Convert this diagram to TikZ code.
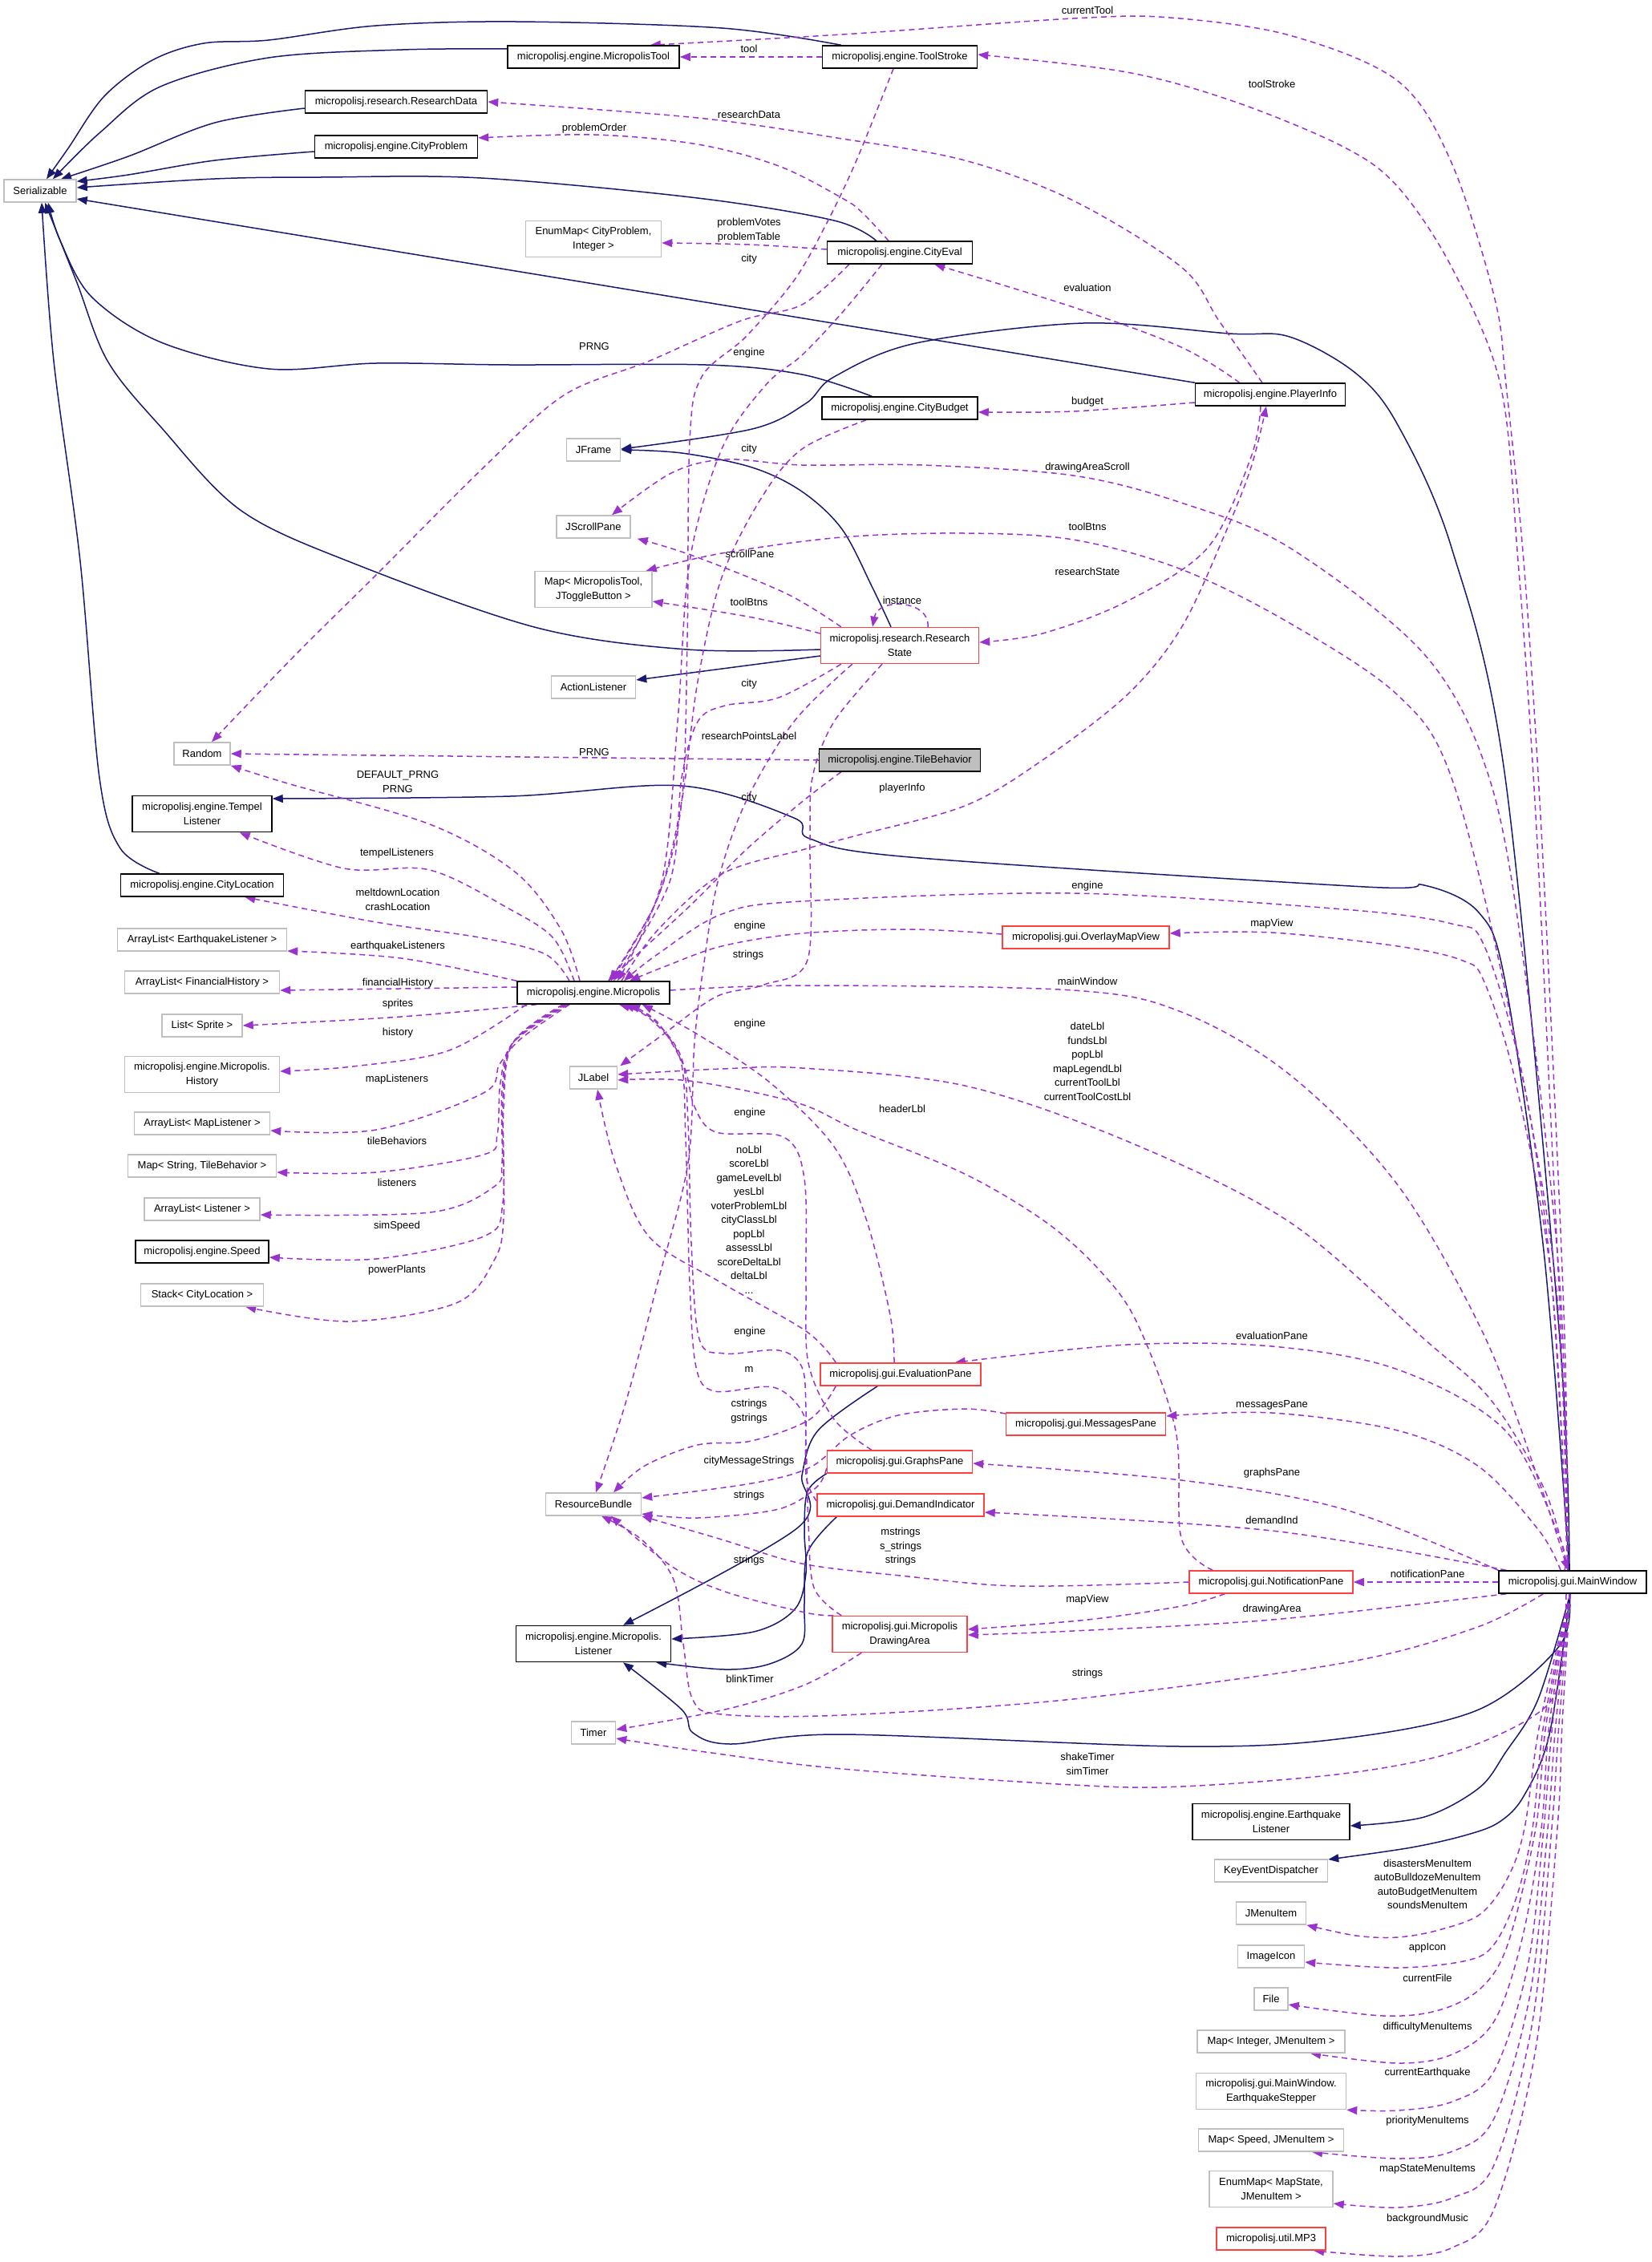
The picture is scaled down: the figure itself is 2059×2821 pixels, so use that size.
\documentclass[tikz,border=0pt]{standalone}
\usepackage{fontspec}
\setmainfont{Liberation Sans}
\usetikzlibrary{arrows.meta,calc}
\definecolor{inhc}{RGB}{25,25,112}
\definecolor{depc}{RGB}{154,50,205}
\definecolor{extc}{RGB}{191,191,191}
\definecolor{redc}{RGB}{255,64,64}
\pgfdeclarelayer{bg}
\pgfsetlayers{bg,main}
\begin{document}
\begin{tikzpicture}[x=1pt,y=-1pt,
  every node/.style={font=\fontsize{13pt}{17.5pt}\selectfont, inner sep=0pt, align=center},
  box/.style={draw, line width=1.5pt, fill=white, minimum height=28pt},
  docb/.style={box, draw=black},
  extb/.style={box, draw=extc},
  redb/.style={box, draw=redc},
  tall/.style={minimum height=45pt},
  inh/.style={draw=inhc, line width=1.5pt, -{Triangle[length=13pt,width=10pt]}},
  dep/.style={draw=depc, line width=1.5pt, dash pattern=on 7pt off 5pt, -{Triangle[length=13pt,width=10pt]}},
  sm/.style={smooth, tension=0.55},
]
\useasboundingbox (0,0) rectangle (2059,2821);

% ---------------- nodes ----------------
\node[extb, minimum width=90pt] (ser) at (50,238) {Serializable};
\node[docb, minimum width=214pt] (mtool) at (740,71) {micropolisj.engine.MicropolisTool};
\node[docb, minimum width=193pt] (tstroke) at (1122,71) {micropolisj.engine.ToolStroke};
\node[docb, minimum width=227pt] (rdata) at (494,127) {micropolisj.research.ResearchData};
\node[docb, minimum width=203pt] (cprob) at (494,183) {micropolisj.engine.CityProblem};
\node[extb, tall, minimum width=169pt] (emcp) at (740,298) {EnumMap< CityProblem,\\Integer >};
\node[docb, minimum width=181pt] (ceval) at (1122,315) {micropolisj.engine.CityEval};
\node[docb, minimum width=187pt] (pinfo) at (1584,492) {micropolisj.engine.PlayerInfo};
\node[docb, minimum width=194pt] (cbudget) at (1122,509) {micropolisj.engine.CityBudget};
\node[extb, minimum width=67pt] (jframe) at (740,561) {JFrame};
\node[extb, minimum width=92pt] (jscroll) at (740,657) {JScrollPane};
\node[extb, tall, minimum width=146pt] (maptool) at (740,735) {Map< MicropolisTool,\\JToggleButton >};
\node[redb, tall, minimum width=197pt] (rstate) at (1122,805) {micropolisj.research.Research\\State};
\node[extb, minimum width=105pt] (alist) at (740,857) {ActionListener};
\node[extb, minimum width=70pt] (random) at (252,940) {Random};
\node[docb, fill=extc, minimum width=201pt] (tbeh) at (1122,948) {micropolisj.engine.TileBehavior};
\node[docb, tall, minimum width=174pt] (tempel) at (252,1015) {micropolisj.engine.Tempel\\Listener};
\node[docb, minimum width=203pt] (cloc) at (252,1104) {micropolisj.engine.CityLocation};
\node[extb, minimum width=211pt] (aleq) at (252,1172) {ArrayList< EarthquakeListener >};
\node[extb, minimum width=193pt] (alfin) at (252,1225) {ArrayList< FinancialHistory >};
\node[docb, minimum width=190pt] (micro) at (740,1238) {micropolisj.engine.Micropolis};
\node[extb, minimum width=100pt] (lsprite) at (252,1279) {List< Sprite >};
\node[extb, tall, minimum width=193pt] (hist) at (252,1340) {micropolisj.engine.Micropolis.\\History};
\node[extb, minimum width=59pt] (jlabel) at (740,1344) {JLabel};
\node[extb, minimum width=169pt] (almap) at (252,1401) {ArrayList< MapListener >};
\node[extb, minimum width=185pt] (mstb) at (252,1454) {Map< String, TileBehavior >};
\node[extb, minimum width=144pt] (allis) at (252,1508) {ArrayList< Listener >};
\node[docb, minimum width=166pt] (speed) at (252,1561) {micropolisj.engine.Speed};
\node[extb, minimum width=153pt] (stack) at (252,1615) {Stack< CityLocation >};
\node[redb, minimum width=208pt] (omv) at (1354,1169) {micropolisj.gui.OverlayMapView};
\node[redb, minimum width=200pt] (evalp) at (1123,1714) {micropolisj.gui.EvaluationPane};
\node[redb, minimum width=199pt] (msgp) at (1354,1776) {micropolisj.gui.MessagesPane};
\node[redb, minimum width=181pt] (graphp) at (1122,1823) {micropolisj.gui.GraphsPane};
\node[extb, minimum width=119pt] (rbundle) at (740,1876) {ResourceBundle};
\node[redb, minimum width=208pt] (demand) at (1123,1877) {micropolisj.gui.DemandIndicator};
\node[redb, minimum width=204pt] (notif) at (1585,1973) {micropolisj.gui.NotificationPane};
\node[docb, minimum width=184pt] (mw) at (1961,1973) {micropolisj.gui.MainWindow};
\node[redb, tall, minimum width=168pt] (darea) at (1122,2038) {micropolisj.gui.Micropolis\\DrawingArea};
\node[docb, tall, minimum width=193pt] (mlist) at (740,2050) {micropolisj.engine.Micropolis.\\Listener};
\node[extb, minimum width=55pt] (timer) at (740,2161) {Timer};
\node[docb, tall, minimum width=196pt] (eqlist) at (1585,2272) {micropolisj.engine.Earthquake\\Listener};
\node[extb, minimum width=141pt] (ked) at (1585,2333) {KeyEventDispatcher};
\node[extb, minimum width=87pt] (jmi) at (1585,2386) {JMenuItem};
\node[extb, minimum width=83pt] (icon) at (1585,2440) {ImageIcon};
\node[extb, minimum width=42pt] (file) at (1585,2493) {File};
\node[extb, minimum width=184pt] (mapint) at (1585,2546) {Map< Integer, JMenuItem >};
\node[extb, tall, minimum width=187pt] (eqstep) at (1585,2608) {micropolisj.gui.MainWindow.\\EarthquakeStepper};
\node[extb, minimum width=181pt] (mapspeed) at (1585,2669) {Map< Speed, JMenuItem >};
\node[extb, tall, minimum width=154pt] (emms) at (1585,2730) {EnumMap< MapState,\\JMenuItem >};
\node[redb, minimum width=136pt] (mp3) at (1585,2792) {micropolisj.util.MP3};

% ---------------- labels ----------------
\node (t01) at (1356,13) {currentTool};
\node (t02) at (934,61) {tool};
\node (t03) at (1586,105) {toolStroke};
\node (t04) at (934,143) {researchData};
\node (t05) at (741,160) {problemOrder};
\node (t06) at (934,287) {problemVotes\\problemTable};
\node (t07) at (934,323) {city};
\node (t08) at (1356,359) {evaluation};
\node (t09) at (741,432) {PRNG};
\node (t10) at (934,440) {engine};
\node (t11) at (1356,501) {budget};
\node (t12) at (934,560) {city};
\node (t13) at (1356,583) {drawingAreaScroll};
\node (t14) at (1356,657) {toolBtns};
\node (t15) at (935,691) {scrollPane};
\node (t16) at (1356,713) {researchState};
\node (t17) at (1125,749) {instance};
\node (t18) at (934,751) {toolBtns};
\node (t19) at (934,853) {city};
\node (t20) at (934,918) {researchPointsLabel};
\node (t21) at (741,938) {PRNG};
\node (t22) at (496,975) {DEFAULT\_PRNG\\PRNG};
\node (t23) at (1125,983) {playerInfo};
\node (t24) at (934,995) {city};
\node (t25) at (495,1064) {tempelListeners};
\node (t26) at (1356,1105) {engine};
\node (t27) at (496,1122) {meltdownLocation\\crashLocation};
\node (t28) at (1586,1152) {mapView};
\node (t29) at (935,1155) {engine};
\node (t30) at (496,1180) {earthquakeListeners};
\node (t31) at (933,1191) {strings};
\node (t32) at (1356,1224) {mainWindow};
\node (t33) at (496,1226) {financialHistory};
\node (t34) at (496,1252) {sprites};
\node (t35) at (935,1277) {engine};
\node (t36) at (496,1288) {history};
\node (t37) at (1356,1324) {dateLbl\\fundsLbl\\popLbl\\mapLegendLbl\\currentToolLbl\\currentToolCostLbl};
\node (t38) at (495,1346) {mapListeners};
\node (t39) at (1125,1383) {headerLbl};
\node (t40) at (935,1388) {engine};
\node (t41) at (495,1423) {tileBehaviors};
\node (t42) at (495,1475) {listeners};
\node (t43) at (934,1521) {noLbl\\scoreLbl\\gameLevelLbl\\yesLbl\\voterProblemLbl\\cityClassLbl\\popLbl\\assessLbl\\scoreDeltaLbl\\deltaLbl\\...};
\node (t44) at (495,1529) {simSpeed};
\node (t45) at (495,1584) {powerPlants};
\node (t46) at (935,1661) {engine};
\node (t47) at (1586,1666) {evaluationPane};
\node (t48) at (934,1708) {m};
\node (t49) at (1586,1752) {messagesPane};
\node (t50) at (934,1760) {cstrings\\gstrings};
\node (t51) at (934,1822) {cityMessageStrings};
\node (t52) at (1586,1837) {graphsPane};
\node (t53) at (934,1865) {strings};
\node (t54) at (1586,1896) {demandInd};
\node (t55) at (1123,1929) {mstrings\\s\_strings\\strings};
\node (t56) at (934,1946) {strings};
\node (t57) at (1780,1963) {notificationPane};
\node (t58) at (1356,1995) {mapView};
\node (t59) at (1586,2007) {drawingArea};
\node (t60) at (1356,2087) {strings};
\node (t61) at (935,2094) {blinkTimer};
\node (t62) at (1356,2200) {shakeTimer\\simTimer};
\node (t63) at (1780,2350) {disastersMenuItem\\autoBulldozeMenuItem\\autoBudgetMenuItem\\soundsMenuItem};
\node (t64) at (1780,2429) {appIcon};
\node (t65) at (1780,2467) {currentFile};
\node (t66) at (1780,2528) {difficultyMenuItems};
\node (t67) at (1780,2585) {currentEarthquake};
\node (t68) at (1780,2645) {priorityMenuItems};
\node (t69) at (1780,2705) {mapStateMenuItems};
\node (t70) at (1780,2767) {backgroundMusic};

\begin{pgfonlayer}{bg}
% ---------------- inheritance ----------------
\draw[inh] plot[sm] coordinates {($(mtool.west)+(0,-10)$) (502,62) (335,72) (200,108) (125,165) ($(ser.north)+(16,0)$)};
\draw[inh] plot[sm] coordinates {($(tstroke.north west)+(24,0)$) (900,35) (643,27) (469,32) (335,50) (254,54) (190,75) (130,120) (85,185) ($(ser.north)+(8,0)$)};
\draw[inh] plot[sm] coordinates {($(rdata.west)+(0,8)$) (268,153) (160,195) ($(ser.north)+(26,0)$)};
\draw[inh] plot[sm] coordinates {($(cprob.west)+(0,6)$) (268,200) (160,218) ($(ser.north east)+(0,3)$)};
\draw[inh] plot[sm] coordinates {($(ceval.north west)+(62,0)$) (1040,275) (870,247) (600,222) (400,221) (268,223) ($(ser.east)+(0,-4)$)};
\draw[inh] (pinfo.north west) -- ($(ser.east)+(0,10)$);
\draw[inh] plot[sm] coordinates {($(cbudget.north west)+(63,0)$) (1000,467) (880,455) (636,455) (469,453) (335,460) (201,427) (114,370) (75,300) ($(ser.south)+(10,0)$)};
\draw[inh] plot[sm] coordinates {($(cloc.north west)+(49,0)$) (150,1058) (124,970) (100,700) (67,450) ($(ser.south)+(2,0)$)};
\draw[inh] plot[sm] coordinates {($(rstate.west)+(0,5)$) (857,810) (670,783) (442,703) (301,637) (201,533) (134,450) (95,350) ($(ser.south)+(6,0)$)};
\draw[inh] plot[sm] coordinates {($(rstate.north)+(-11,0)$) (1088,733) (1050,660) (1000,613) (938,583) (850,565) (jframe.east)};
\draw[inh] ($(rstate.west)+(0,13)$) -- ($(alist.east)+(0,-9)$);
\draw[inh] plot[sm] coordinates {($(mw.north)+(-4,0)$) (1945,1670) (1877,970) (1810,683) (1743,530) (1690,465) (1608,420) (1533,416) (1351,403) (1142,428) (1040,470) (1005,503) (938,535) ($(jframe.east)+(0,-1)$)};
\draw[inh] plot[sm] coordinates {($(mw.north)+(-4,0)$) (1925,1560) (1877,1225) (1844,1138) (1776,1104) (1702,1106) (1135,1069) (1010,1046) (990,1020) (850,980) (636,993) ($(tempel.east)+(0,-19)$)};
\draw[inh] plot[sm] coordinates {($(mw.south)+(-4,0)$) (1945,2052) (1844,2132) (1675,2168) (1473,2178) (1050,2163) (911,2175) (864,2161) (850,2132) ($(mlist.south)+(37,0)$)};
\draw[inh] plot[sm] coordinates {($(evalp.south west)+(72,0)$) (1020,1784) (1000,1840) (995,1905) ($(mlist.north)+(37,0)$)};
\draw[inh] plot[sm] coordinates {(graphp.south west) (1007,1860) (1003,1910) (1005,1962) (991,2007) (940,2035) ($(mlist.east)+(0,-6)$)};
\draw[inh] plot[sm] coordinates {($(demand.south west)+(25,0)$) (1007,1936) (1003,2000) (1000,2050) (960,2075) (904,2082) ($(mlist.south east)+(-19,0)$)};
\draw[inh] plot[sm] coordinates {($(mw.south)+(-3,0)$) (1918,2119) (1877,2186) (1844,2230) (1776,2266) ($(eqlist.east)+(0,5)$)};
\draw[inh] plot[sm] coordinates {($(mw.south)+(-3,0)$) (1932,2163) (1900,2240) (1870,2272) (1830,2288) (1760,2304) ($(ked.east)+(0,-14)$)};

% ---------------- usage ----------------
\draw[dep] (tstroke.west) -- (mtool.east);
\draw[dep] plot[sm] coordinates {($(mw.north)+(-6,0)$) (1952,1700) (1940,1400) (1920,1000) (1900,700) (1878,480) (1864,373) (1810,203) (1743,101) (1608,44) (1459,22) (1338,23) (1050,43) ($(mtool.north east)+(-37,0)$)};
\draw[dep] plot[sm] coordinates {($(mw.north)+(-6,0)$) (1948,1700) (1934,1400) (1914,1000) (1893,700) (1871,480) (1810,333) (1743,233) (1675,183) (1540,127) (1405,90) ($(tstroke.east)+(0,-3)$)};
\draw[dep] plot[sm] coordinates {($(pinfo.north)+(-10,0)$) (1520,400) (1473,333) (1338,250) (1203,200) (1050,173) (870,147) (rdata.east)};
\draw[dep] plot[sm] coordinates {($(ceval.north)+(-14,0)$) (1075,265) (1050,247) (971,207) (870,180) (741,168) ($(cprob.east)+(0,-11)$)};
\draw[dep] plot[sm] coordinates {($(ceval.west)+(0,-4)$) (934,305) ($(emcp.east)+(0,5)$)};
\draw[dep] plot[sm] coordinates {($(ceval.south west)+(69,0)$) (1050,390) (1000,443) (955,480) (900,560) (860,700) (845,900) (825,1100) ($(micro.north)+(30,0)$)};
\draw[dep] plot[sm] coordinates {($(ceval.south west)+(28,0)$) (1000,380) (924,400) (810,450) (703,493) (603,583) (469,717) (368,817) ($(random.north)+(12,0)$)};
\draw[dep] plot[sm] coordinates {($(pinfo.north west)+(56,0)$) (1473,433) (1338,383) ($(ceval.south east)+(-48,0)$)};
\draw[dep] plot[sm] coordinates {($(pinfo.west)+(0,10)$) (1338,513) ($(cbudget.east)+(0,5)$)};
\draw[dep] plot[sm] coordinates {($(pinfo.south)+(-12,0)$) (1560,570) (1506,683) (1405,750) (1300,790) ($(rstate.east)+(0,-4)$)};
\draw[dep] plot[sm] coordinates {($(micro.north)+(35,0)$) (820,1160) (900,1090) (1000,1060) (1068,1042) (1203,1005) (1297,950) (1405,867) (1473,783) (1527,667) (1560,583) ($(pinfo.south)+(-5,0)$)};
\draw[dep] plot[sm] coordinates {($(mw.north)+(-6,0)$) (1945,1600) (1900,1200) (1857,970) (1777,817) (1608,683) (1473,627) (1338,593) (1150,580) (1000,580) (904,573) (837,590) ($(jscroll.north)+(23,0)$)};
\draw[dep] plot[sm] coordinates {($(mw.north)+(-6,0)$) (1940,1600) (1880,1250) (1810,970) (1743,867) (1608,777) (1473,710) (1338,673) (1203,665) (1050,670) (900,690) ($(maptool.north east)+(-8,0)$)};
\draw[dep] plot[sm] coordinates {($(rstate.north west)+(26,0)$) (980,740) (864,693) ($(jscroll.south east)+(8,0)$)};
\draw[dep] plot[sm] coordinates {($(rstate.west)+(0,-15)$) (938,770) ($(maptool.east)+(0,15)$)};
\draw[dep] ($(rstate.north)+(35,0)$) .. controls (1160,748) and (1095,745) .. ($(rstate.north)+(-34,0)$);
\draw[dep] plot[sm] coordinates {($(rstate.south west)+(26,0)$) (971,870) (904,880) (870,900) (850,970) (835,1100) ($(micro.north)+(25,0)$)};
\draw[dep] plot[sm] coordinates {($(rstate.south)+(-22,0)$) (1040,900) (1013,970) (1010,1050) (1007,1197) (953,1228) (893,1243) (827,1290) ($(jlabel.north east)+(3,0)$)};
\draw[dep] plot[sm] coordinates {($(rstate.south west)+(40,0)$) (990,900) (930,1000) (895,1100) (878,1200) (866,1300) (858,1450) (820,1600) (780,1750) ($(rbundle.north)+(3,0)$)};
\draw[dep] (tbeh.west) -- (random.east);
\draw[dep] plot[sm] coordinates {($(tbeh.south west)+(28,0)$) (1000,1000) (930,1060) (860,1130) ($(micro.north)+(18,0)$)};
\draw[dep] plot[sm] coordinates {($(tstroke.south)+(-8,0)$) (1068,200) (1030,280) (990,350) (930,420) (875,470) (860,550) (857,800) (850,1000) (820,1120) ($(micro.north)+(20,0)$)};
\draw[dep] plot[sm] coordinates {($(cbudget.south west)+(56,0)$) (1000,560) (950,620) (900,720) (870,850) (850,1000) (820,1120) ($(micro.north)+(22,0)$)};
\draw[dep] plot[sm] coordinates {($(mw.north)+(-6,0)$) (1935,1600) (1900,1350) (1851,1180) (1810,1152) (1675,1134) (1338,1114) (1000,1124) (900,1140) (820,1190) ($(micro.north)+(38,0)$)};
\draw[dep] plot[sm] coordinates {($(mw.north)+(-6,0)$) (1935,1600) (1890,1350) (1851,1225) (1824,1198) (1743,1180) (1586,1163) ($(omv.east)+(0,-5)$)};
\draw[dep] plot[sm] coordinates {($(omv.west)+(0,-4)$) (1135,1159) (1000,1164) (900,1180) (830,1205) ($(micro.north)+(45,0)$)};
\draw[dep] plot[sm] coordinates {($(micro.east)+(0,-3)$) (1000,1229) (1338,1235) (1473,1262) (1608,1340) (1743,1478) (1851,1666) (1920,1850) ($(mw.north)+(-6,0)$)};
\draw[dep] plot[sm] coordinates {($(mw.north)+(-6,0)$) (1927,1860) (1860,1747) (1776,1670) (1608,1524) (1405,1423) (1203,1354) (1000,1332) (900,1333) ($(jlabel.east)+(0,-4)$)};
\draw[dep] plot[sm] coordinates {($(notif.north west)+(30,0)$) (1473,1918) (1466,1784) (1418,1650) (1371,1584) (1304,1524) (1203,1464) (1068,1409) (993,1375) (860,1348) ($(jlabel.east)+(0,3)$)};
\draw[dep] plot[sm] coordinates {($(evalp.north west)+(20,0)$) (1005,1660) (900,1600) (810,1543) (767,1450) ($(jlabel.south)+(5,0)$)};
\draw[dep] plot[sm] coordinates {($(evalp.north)+(-8,0)$) (1110,1640) (1080,1520) (1040,1430) (960,1350) (870,1290) ($(micro.south east)+(-35,0)$)};
\draw[dep] plot[sm] coordinates {($(graphp.north west)+(56,0)$) (1040,1770) (1008,1700) (1005,1600) (1003,1470) (977,1418) (893,1412) (866,1380) (853,1330) (820,1275) ($(micro.south)+(45,0)$)};
\draw[dep] plot[sm] coordinates {($(demand.west)+(0,-5)$) (1005,1840) (1005,1760) (1000,1705) (971,1684) (904,1688) (872,1670) (862,1550) (858,1400) (850,1320) (815,1272) ($(micro.south)+(38,0)$)};
\draw[dep] plot[sm] coordinates {($(darea.north west)+(12,0)$) (1015,1980) (1008,1900) (1005,1800) (1000,1760) (964,1730) (891,1735) (868,1705) (860,1600) (855,1420) (848,1320) (810,1270) ($(micro.south)+(32,0)$)};
\draw[dep] plot[sm] coordinates {($(evalp.south west)+(20,0)$) (1010,1770) (937,1797) (870,1802) (804,1828) ($(rbundle.north)+(25,0)$)};
\draw[dep] plot[sm] coordinates {($(msgp.west)+(0,-13)$) (1203,1757) (1120,1765) (1060,1790) (1010,1830) (937,1850) ($(rbundle.east)+(0,-8)$)};
\draw[dep] plot[sm] coordinates {($(graphp.west)+(0,8)$) (1018,1855) (971,1882) (870,1893) ($(rbundle.east)+(0,12)$)};
\draw[dep] plot[sm] coordinates {($(darea.north west)+(2,0)$) (1004,2011) (904,1985) (837,1953) ($(rbundle.south)+(22,0)$)};
\draw[dep] plot[sm] coordinates {(notif.west) (1270,1978) (1123,1965) (1000,1950) (900,1920) (rbundle.south east)};
\draw[dep] plot[sm] coordinates {($(notif.south west)+(45,0)$) (1473,2003) (1356,2020) ($(darea.east)+(0,-6)$)};
\draw[dep] plot[sm] coordinates {($(mw.south west)+(10,0)$) (1586,2020) (1338,2034) ($(darea.east)+(0,1)$)};
\draw[dep] (mw.west) -- (notif.east);
\draw[dep] plot[sm] coordinates {($(mw.north west)+(10,0)$) (1586,1909) ($(demand.east)+(0,9)$)};
\draw[dep] plot[sm] coordinates {(mw.north west) (1675,1882) (1473,1846) ($(graphp.east)+(0,2)$)};
\draw[dep] plot[sm] coordinates {($(mw.north)+(-15,0)$) (1920,1910) (1844,1829) (1743,1784) (1586,1762) ($(msgp.east)+(0,-10)$)};
\draw[dep] plot[sm] coordinates {($(mw.north)+(-10,0)$) (1945,1918) (1877,1784) (1743,1708) (1586,1679) (1405,1677) ($(evalp.north east)+(-33,0)$)};
\draw[dep] plot[sm] coordinates {($(mw.south west)+(56,0)$) (1840,2030) (1675,2074) (1338,2119) (1050,2139) (900,2138) (864,2120) (852,2050) (840,1970) (800,1920) ($(rbundle.south)+(10,0)$)};
\draw[dep] plot[sm] coordinates {($(mw.south)+(-8,0)$) (1945,2096) (1911,2141) (1810,2186) (1675,2212) (1473,2228) (1338,2226) (1050,2206) (880,2185) ($(timer.east)+(0,7)$)};
\draw[dep] plot[sm] coordinates {($(darea.south west)+(37,0)$) (1004,2101) (904,2132) ($(timer.east)+(0,-4)$)};
% fan below MainWindow
\draw[dep] plot[sm] coordinates {($(mw.south)+(-3,0)$) (1920,2150) (1901,2280) (1880,2342) (1846,2387) (1794,2407) (1743,2416) (1691,2414) (jmi.south east)};
\draw[dep] plot[sm] coordinates {($(mw.south)+(-3,0)$) (1925,2150) (1911,2280) (1891,2366) (1863,2425) (1829,2445) (1743,2454) ($(icon.east)+(0,7)$)};
\draw[dep] plot[sm] coordinates {($(mw.south)+(-3,0)$) (1928,2150) (1915,2280) (1880,2425) (1846,2480) (1794,2507) (1725,2514) ($(file.east)+(0,7)$)};
\draw[dep] plot[sm] coordinates {($(mw.south)+(-3,0)$) (1932,2150) (1922,2280) (1898,2418) (1863,2521) (1811,2562) (1743,2573) ($(mapint.south)+(49,0)$)};
\draw[dep] plot[sm] coordinates {($(mw.south)+(-3,0)$) (1936,2150) (1925,2280) (1905,2452) (1863,2583) (1811,2621) (1743,2632) (eqstep.south east)};
\draw[dep] plot[sm] coordinates {($(mw.south)+(-3,0)$) (1940,2150) (1930,2280) (1908,2487) (1863,2642) (1811,2683) (1743,2692) ($(mapspeed.south)+(51,0)$)};
\draw[dep] plot[sm] coordinates {($(mw.south)+(-3,0)$) (1944,2150) (1935,2280) (1911,2521) (1863,2700) (1811,2741) (1743,2753) ($(emms.east)+(0,18)$)};
\draw[dep] plot[sm] coordinates {($(mw.south)+(-3,0)$) (1948,2150) (1942,2280) (1915,2555) (1863,2755) (1811,2803) (1743,2814) ($(mp3.south)+(53,0)$)};
% Micropolis fields, left column
\draw[dep] plot[sm] coordinates {($(micro.north)+(-17,0)$) (700,1160) (643,1088) (536,1028) (362,978) (random.south east)};
\draw[dep] plot[sm] coordinates {($(micro.north)+(-24,0)$) (690,1170) (636,1134) (536,1085) (429,1083) ($(tempel.south east)+(-41,0)$)};
\draw[dep] plot[sm] coordinates {($(micro.north)+(-30,0)$) (680,1190) (603,1170) (469,1150) ($(cloc.south east)+(-49,0)$)};
\draw[dep] plot[sm] coordinates {(micro.north west) (500,1195) ($(aleq.east)+(0,14)$)};
\draw[dep] ($(micro.west)+(0,-7)$) -- ($(alfin.east)+(0,10)$);
\draw[dep] plot[sm] coordinates {($(micro.south west)+(25,0)$) (500,1268) (lsprite.east)};
\draw[dep] plot[sm] coordinates {($(micro.south west)+(12,0)$) (560,1310) (440,1330) ($(hist.east)+(0,-4)$)};
\draw[dep] plot[sm] coordinates {($(micro.south)+(-30,0)$) (650,1295) (623,1327) (603,1363) (469,1409) ($(almap.east)+(0,9)$)};
\draw[dep] plot[sm] coordinates {($(micro.south)+(-32,0)$) (640,1300) (624,1350) (620,1415) (603,1440) (469,1462) ($(mstb.east)+(0,8)$)};
\draw[dep] plot[sm] coordinates {($(micro.south)+(-34,0)$) (640,1300) (626,1360) (626,1450) (616,1480) (536,1512) ($(allis.east)+(0,7)$)};
\draw[dep] plot[sm] coordinates {($(micro.south)+(-36,0)$) (640,1300) (627,1370) (627,1500) (603,1542) (469,1570) ($(speed.east)+(0,7)$)};
\draw[dep] plot[sm] coordinates {($(micro.south)+(-38,0)$) (640,1300) (628,1380) (628,1520) (616,1572) (569,1625) (435,1648) ($(stack.south east)+(-23,0)$)};
\end{pgfonlayer}
\end{tikzpicture}
\end{document}
